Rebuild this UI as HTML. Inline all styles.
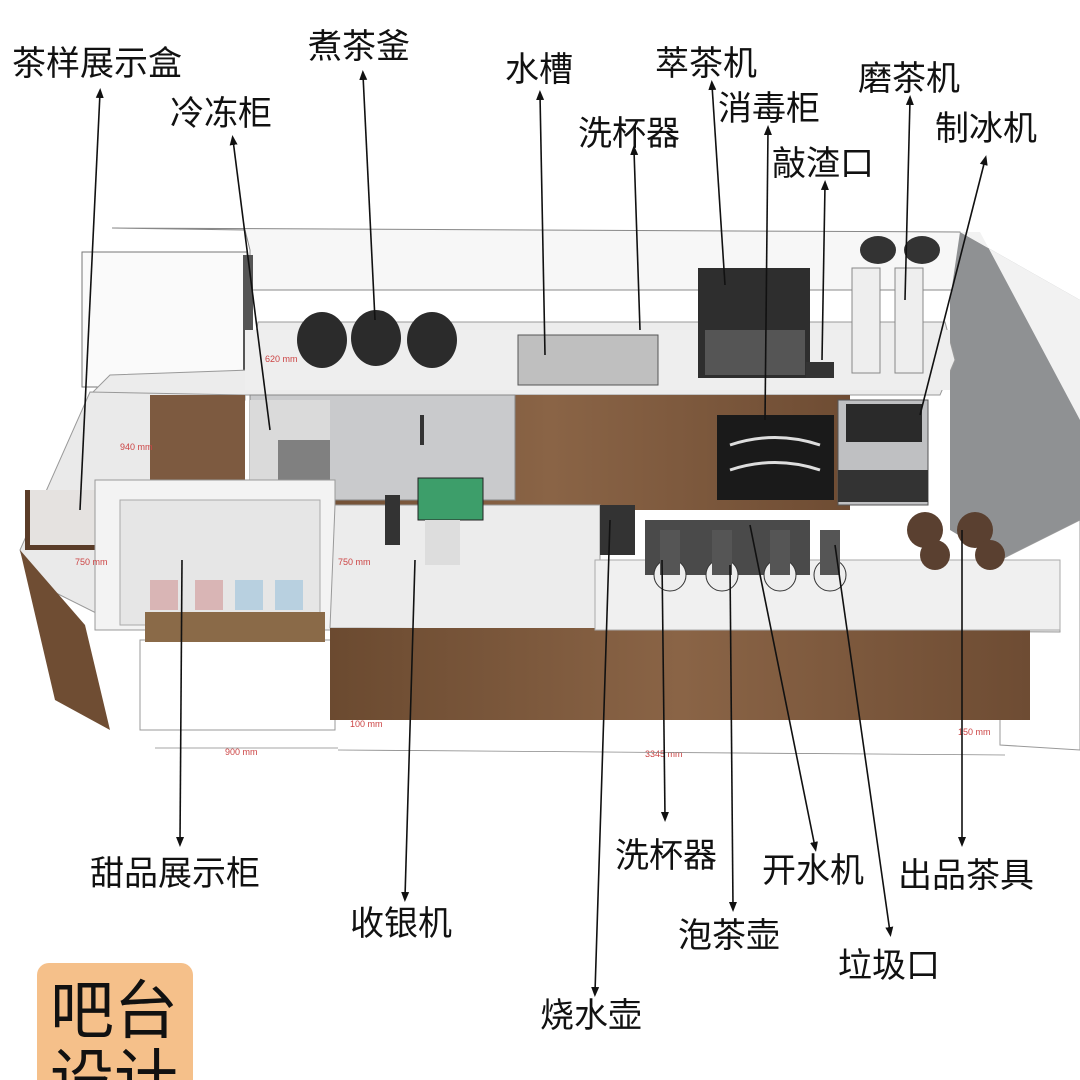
<!DOCTYPE html>
<html><head><meta charset="utf-8"><style>
html,body{margin:0;padding:0;background:#fff;}
svg{display:block}
.t{font-family:"Liberation Sans","Noto Sans CJK SC",sans-serif;font-size:34px;fill:#111}
.d{font-family:"Liberation Sans",sans-serif;font-size:9px;fill:#c44}
</style></head><body>
<svg width="1080" height="1080" viewBox="0 0 1080 1080" xmlns="http://www.w3.org/2000/svg">
<defs>
<marker id="a" markerWidth="10" markerHeight="10" refX="5" refY="5" orient="auto-start-reverse" markerUnits="userSpaceOnUse"><path d="M0,1 L10,5 L0,9 z" fill="#111"/></marker>
<linearGradient id="w" x1="0" x2="1"><stop offset="0" stop-color="#6b4a30"/><stop offset=".5" stop-color="#8a6446"/><stop offset="1" stop-color="#6e4c33"/></linearGradient>
</defs>
<polygon points="112,228 960,232 990,290 250,290 250,250 245,230" fill="#f7f7f7" stroke="#888"/>
<rect x="82" y="252" width="165" height="135" fill="#fafafa" stroke="#777"/>
<rect x="243" y="255" width="10" height="130" fill="#555"/>
<polygon points="960,232 1080,300 1080,750 1000,740 1000,560 950,530 950,300" fill="#8f9193"/>
<polygon points="960,232 980,232 1080,420 1080,300" fill="#f2f2f2"/>
<polygon points="1000,560 1080,520 1080,750 1000,745" fill="#fff" stroke="#999"/>
<polygon points="258,322 945,322 955,360 940,395 90,395 110,375 250,370" fill="#ececec" stroke="#999"/>
<rect x="245" y="330" width="705" height="60" fill="#eeeeee"/>
<rect x="250" y="395" width="600" height="115" fill="url(#w)"/>
<rect x="250" y="395" width="265" height="105" fill="#c9cacc" stroke="#888"/>
<rect x="250" y="400" width="80" height="95" fill="#dadada"/>
<rect x="278" y="440" width="52" height="40" fill="#444" opacity=".6"/>
<rect x="420" y="415" width="4" height="30" fill="#333"/>
<rect x="717" y="415" width="117" height="85" fill="#1a1a1a"/>
<path d="M730,445 Q775,430 820,445 M730,470 Q775,455 820,470" stroke="#ddd" stroke-width="3" fill="none"/>
<rect x="838" y="400" width="90" height="105" fill="#bfc0c2" stroke="#555"/>
<rect x="846" y="404" width="76" height="38" fill="#2a2a2a"/>
<rect x="838" y="470" width="90" height="32" fill="#333"/>
<g fill="#2b2b2b">
<ellipse cx="322" cy="340" rx="25" ry="28"/><ellipse cx="376" cy="338" rx="25" ry="28"/><ellipse cx="432" cy="340" rx="25" ry="28"/>
</g>
<rect x="518" y="335" width="140" height="50" fill="#bfbfbf" stroke="#555"/>
<rect x="698" y="268" width="112" height="110" fill="#2e2e2e"/>
<rect x="705" y="330" width="100" height="45" fill="#555"/>
<rect x="806" y="362" width="28" height="16" fill="#333"/>
<rect x="852" y="268" width="28" height="105" fill="#eee" stroke="#888"/><rect x="895" y="268" width="28" height="105" fill="#eee" stroke="#888"/>
<ellipse cx="878" cy="250" rx="18" ry="14" fill="#333"/><ellipse cx="922" cy="250" rx="18" ry="14" fill="#333"/>
<polygon points="90,392 245,395 245,400 120,625 30,580 20,550" fill="#eaeaea" stroke="#999"/>
<polygon points="20,550 85,625 110,730 55,700" fill="#6f4d33"/>
<polygon points="150,395 245,395 245,505 150,500" fill="#7d5a40"/>
<rect x="25" y="490" width="85" height="60" fill="#5a3c28"/>
<rect x="30" y="490" width="75" height="55" fill="#f4f4f4" opacity=".9"/>
<rect x="95" y="480" width="240" height="150" fill="#f3f3f3" stroke="#999"/>
<rect x="120" y="500" width="200" height="125" fill="#e6e6e6" stroke="#aaa"/>
<rect x="140" y="640" width="195" height="90" fill="#fff" stroke="#999"/>
<g fill="#d9b5b5"><rect x="150" y="580" width="28" height="30"/><rect x="195" y="580" width="28" height="30"/></g>
<g fill="#b8d0e0"><rect x="235" y="580" width="28" height="30"/><rect x="275" y="580" width="28" height="30"/></g>
<rect x="145" y="612" width="180" height="30" fill="#8a6a48"/>
<polygon points="335,505 600,505 600,562 1060,562 1060,632 330,628" fill="#ececec" stroke="#999"/>
<rect x="330" y="628" width="700" height="92" fill="url(#w)"/>
<rect x="595" y="560" width="465" height="70" fill="#f0f0f0" stroke="#aaa"/>
<rect x="645" y="520" width="165" height="55" fill="#4a4a4a"/>
<rect x="600" y="505" width="35" height="50" fill="#333"/>
<rect x="418" y="478" width="65" height="42" fill="#3d9e6a" stroke="#222"/>
<rect x="425" y="520" width="35" height="45" fill="#ddd"/>
<rect x="385" y="495" width="15" height="50" fill="#333"/>
<g fill="#eee" stroke="#333"><circle cx="670" cy="575" r="16"/><circle cx="722" cy="575" r="16"/><circle cx="780" cy="575" r="16"/><circle cx="830" cy="575" r="16"/></g>
<g fill="#555"><rect x="660" y="530" width="20" height="45"/><rect x="712" y="530" width="20" height="45"/><rect x="770" y="530" width="20" height="45"/><rect x="820" y="530" width="20" height="45"/></g>
<g fill="#5a4030"><circle cx="925" cy="530" r="18"/><circle cx="975" cy="530" r="18"/><circle cx="935" cy="555" r="15"/><circle cx="990" cy="555" r="15"/></g>
<text class="d" x="265" y="362">620 mm</text><text class="d" x="120" y="450">940 mm</text>
<text class="d" x="75" y="565">750 mm</text><text class="d" x="338" y="565">750 mm</text>
<text class="d" x="350" y="727">100 mm</text><text class="d" x="225" y="755">900 mm</text>
<text class="d" x="645" y="757">3345 mm</text><text class="d" x="958" y="735">150 mm</text>
<line x1="155" y1="748" x2="338" y2="748" stroke="#888" stroke-width=".8"/>
<line x1="338" y1="750" x2="1005" y2="755" stroke="#888" stroke-width=".8"/>
<g stroke="#111" stroke-width="1.6" fill="none">
<line x1="80" y1="510" x2="100" y2="93" marker-end="url(#a)"/>
<line x1="270" y1="430" x2="233" y2="140" marker-end="url(#a)"/>
<line x1="375" y1="320" x2="363" y2="75" marker-end="url(#a)"/>
<line x1="545" y1="355" x2="540" y2="95" marker-end="url(#a)"/>
<line x1="640" y1="330" x2="634" y2="150" marker-end="url(#a)"/>
<line x1="725" y1="285" x2="712" y2="85" marker-end="url(#a)"/>
<line x1="765" y1="420" x2="768" y2="130" marker-end="url(#a)"/>
<line x1="822" y1="360" x2="825" y2="185" marker-end="url(#a)"/>
<line x1="905" y1="300" x2="910" y2="100" marker-end="url(#a)"/>
<line x1="920" y1="415" x2="985" y2="160" marker-end="url(#a)"/>
<line x1="182" y1="560" x2="180" y2="842" marker-end="url(#a)"/>
<line x1="415" y1="560" x2="405" y2="897" marker-end="url(#a)"/>
<line x1="662" y1="560" x2="665" y2="817" marker-end="url(#a)"/>
<line x1="730" y1="565" x2="733" y2="907" marker-end="url(#a)"/>
<line x1="750" y1="525" x2="815" y2="847" marker-end="url(#a)"/>
<line x1="835" y1="545" x2="890" y2="932" marker-end="url(#a)"/>
<line x1="962" y1="530" x2="962" y2="842" marker-end="url(#a)"/>
<line x1="610" y1="520" x2="595" y2="992" marker-end="url(#a)"/>
</g>
<text class="t" x="12" y="75">茶样展示盒</text>
<text class="t" x="308" y="58">煮茶釜</text>
<text class="t" x="505" y="81">水槽</text>
<text class="t" x="655" y="75">萃茶机</text>
<text class="t" x="858" y="90">磨茶机</text>
<text class="t" x="170" y="125">冷冻柜</text>
<text class="t" x="718" y="120">消毒柜</text>
<text class="t" x="578" y="145">洗杯器</text>
<text class="t" x="935" y="140">制冰机</text>
<text class="t" x="772" y="175">敲渣口</text>
<text class="t" x="90" y="885">甜品展示柜</text>
<text class="t" x="350" y="935">收银机</text>
<text class="t" x="615" y="867">洗杯器</text>
<text class="t" x="762" y="882">开水机</text>
<text class="t" x="898" y="887">出品茶具</text>
<text class="t" x="678" y="947">泡茶壶</text>
<text class="t" x="838" y="977">垃圾口</text>
<text class="t" x="540" y="1027">烧水壶</text>
<rect x="37" y="963" width="156" height="130" rx="12" fill="#f5c08a"/>
<text class="t" x="50" y="1033" style="font-size:64px">吧台</text>
<text class="t" x="50" y="1102" style="font-size:64px">设计</text>
</svg>
</body></html>
